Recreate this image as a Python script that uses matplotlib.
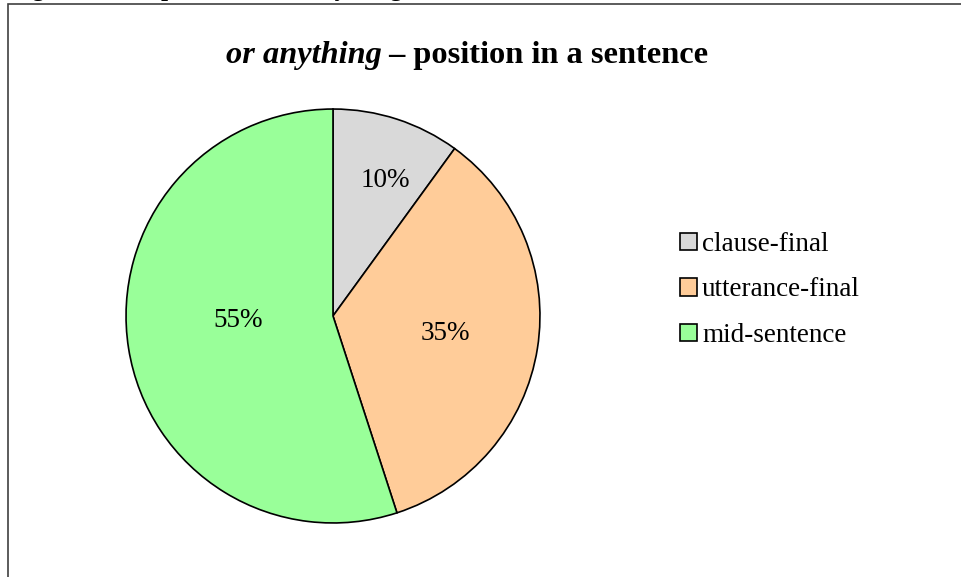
import matplotlib.pyplot as plt
from matplotlib.patches import Rectangle
import numpy as np

plt.rcParams['font.family'] = ['Liberation Serif', 'DejaVu Serif']

categories = ['clause-final', 'utterance-final', 'mid-sentence']
values = [10, 35, 55]
colors = ['#D9D9D9', '#FFCC99', '#99FF99']

# label placement: distance from centre (fraction of radius), angle shift (deg)
label_dist = [0.70, 0.55, 0.46]
label_shift = [-3, 0, -6]

fig = plt.figure(figsize=(9.61, 5.77), dpi=100)

# outer frame of the chart area
fig.patches.append(Rectangle((8 / 961, -0.01), 1.0, 1 - 4 / 577 + 0.01,
                             transform=fig.transFigure, fill=False,
                             edgecolor='#404040', linewidth=1.2))

# caption above the chart, mostly cut off by the top edge
fig.text(10 / 961, 1 + 4 / 577, 'Figure 4: The position of or anything in a sentence',
         fontsize=18, fontweight='bold', va='baseline', ha='left')

ax = fig.add_axes([(333 - 208) / 961, (577 - 524) / 577, 416 / 961, 416 / 577])
wedges, _ = ax.pie(values, colors=colors, startangle=90, counterclock=False,
                   wedgeprops=dict(edgecolor='black', linewidth=1.2))
ax.set_xlim(-1.005, 1.005)
ax.set_ylim(-1.005, 1.005)
ax.set_aspect('equal')

for w, v, d, s in zip(wedges, values, label_dist, label_shift):
    ang = np.deg2rad((w.theta1 + w.theta2) / 2 + s)
    ax.text(d * np.cos(ang), d * np.sin(ang), f'{v}%', ha='center', va='center',
            fontsize=19.5)

# title: italic part + bold part, centred as one line
t1 = fig.text(0, 1 - 55 / 577, 'or anything', fontsize=23.3, fontweight='bold',
              fontstyle='italic', va='center', ha='left')
t2 = fig.text(0, 1 - 55 / 577, ' \u2013 position in a sentence', fontsize=23.3,
              fontweight='bold', va='center', ha='left')
fig.canvas.draw()
r = fig.canvas.get_renderer()
w1 = t1.get_window_extent(r).width
w2 = t2.get_window_extent(r).width
x0 = 467 - (w1 + w2) / 2
t1.set_x(x0 / 961)
t2.set_x((x0 + w1) / 961)

handles = [Rectangle((0, 0), 1, 1, facecolor=c, edgecolor='black', linewidth=1.2)
           for c in colors]
fig.legend(handles, categories, loc='center left', bbox_to_anchor=(656 / 961, 1 - 290 / 577),
           frameon=False, fontsize=19.5, handlelength=0.6, handleheight=0.6,
           handletextpad=0.2, labelspacing=0.75)

fig.savefig('out.png', dpi=100)
